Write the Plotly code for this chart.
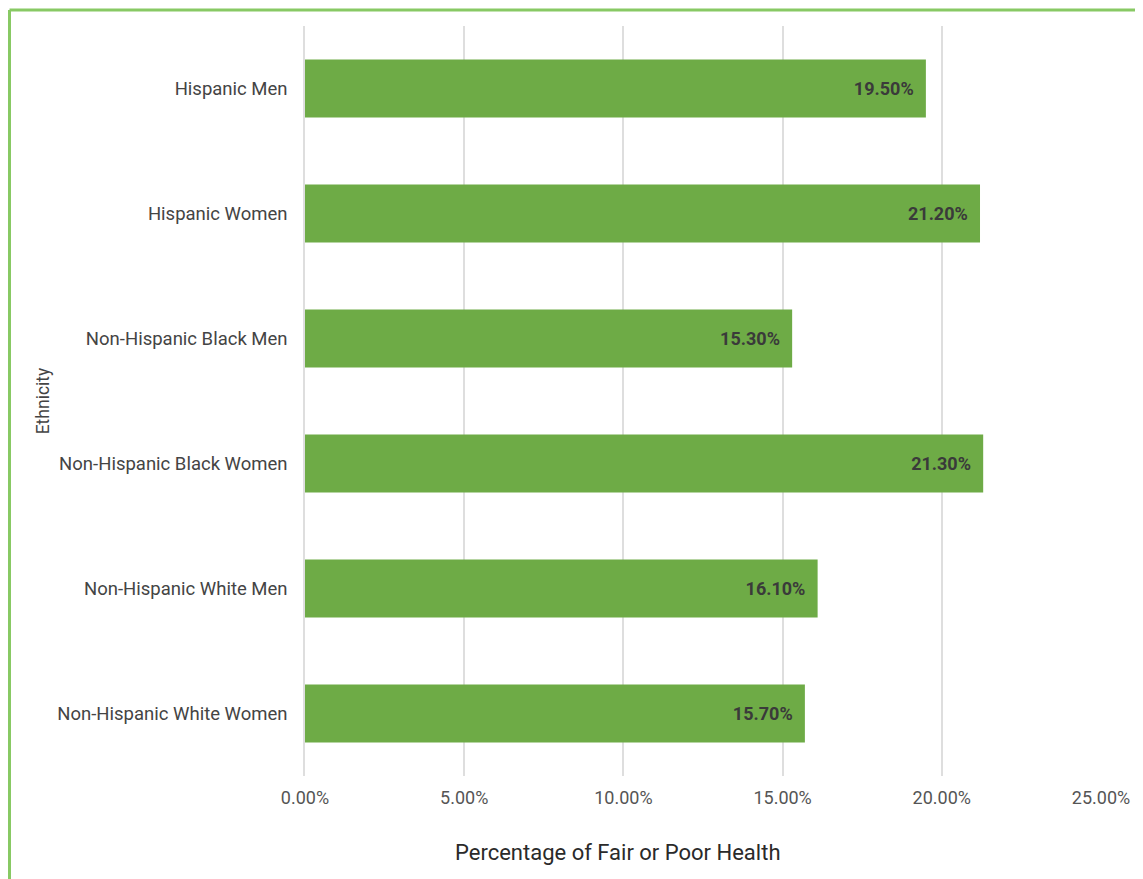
import plotly.graph_objects as go

categories = ["Hispanic Men", "Hispanic Women", "Non-Hispanic Black Men",
              "Non-Hispanic Black Women", "Non-Hispanic White Men", "Non-Hispanic White Women"]
values = [0.195, 0.212, 0.153, 0.213, 0.161, 0.157]
tick_vals = [0, 0.05, 0.10, 0.15, 0.20, 0.25]
x_title = "Percentage of Fair or Poor Health"
y_title = "Ethnicity"

# page body has an 8px margin, so the figure is sized to fit the window
W, H = 1135, 871
ml, mr, mt, mb = 297, 42, 17.5, 102.5
pw, ph = W - ml - mr, H - mt - mb

fig = go.Figure(go.Bar(
    x=values, y=categories, orientation="h",
    marker=dict(color="#6eab46", line=dict(width=0)),
    text=[f"<b>{v*100:.2f}%</b>\u2002" for v in values],
    textposition="inside", insidetextanchor="end", textangle=0,
    textfont=dict(family="Roboto", size=18, color="#3a3a3a"),
    hoverinfo="skip",
))

def px_x(p):
    return (p - ml) / pw

def px_y(p):
    return (H - mb - p) / ph

border = "#88c964"
fig.add_shape(type="line", xref="paper", yref="paper",
              x0=px_x(1.5), x1=px_x(W + 20), y0=px_y(1.5), y1=px_y(1.5),
              line=dict(color=border, width=3))
fig.add_shape(type="line", xref="paper", yref="paper",
              x0=px_x(1.5), x1=px_x(1.5), y0=px_y(1.5), y1=px_y(H + 20),
              line=dict(color=border, width=3))

fig.add_annotation(text=x_title, xref="paper", yref="paper",
                   x=px_x(610), y=px_y(845), xanchor="center", yanchor="middle",
                   showarrow=False,
                   font=dict(family="Roboto", size=22, color="#2a2a2a"))

fig.update_layout(
    width=W, height=H,
    margin=dict(l=ml, r=mr, t=mt, b=mb),
    paper_bgcolor="white", plot_bgcolor="white",
    bargap=0.535,
    showlegend=False,
    font=dict(family="Roboto", color="#555555"),
    xaxis=dict(
        range=[0, 0.25], tickvals=tick_vals, tickformat=".2%",
        showgrid=True, gridcolor="#dedede", gridwidth=1.5,
        zeroline=False, showline=False,
        tickfont=dict(family="Roboto", size=18, color="#555555"),
        ticks="", ticklabelstandoff=9,
    ),
    yaxis=dict(
        categoryorder="array", categoryarray=categories[::-1],
        autorange=True, showgrid=False, zeroline=False,
        showline=True, linecolor="#dedede", linewidth=1.5,
        ticks="", ticklabelstandoff=12,
        tickfont=dict(family="Roboto", size=18.5, color="#444444"),
        title=dict(text=y_title, font=dict(family="Roboto", size=17.5, color="#444444"),
                   standoff=3),
    ),
)

fig.write_html("out.html")
